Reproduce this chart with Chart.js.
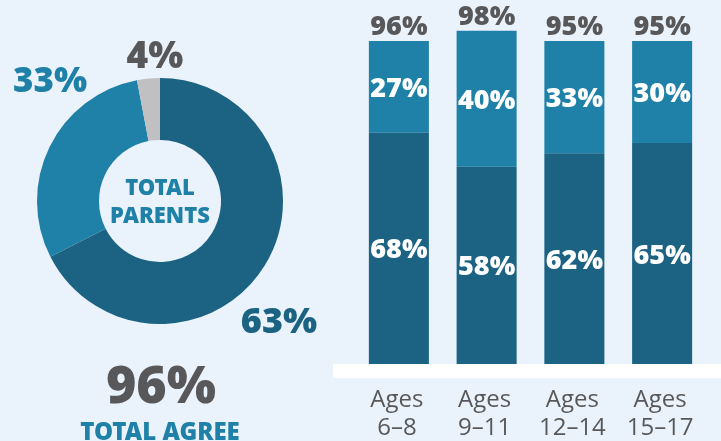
<!DOCTYPE html>
<html>
<head>
<meta charset="utf-8">
<script src="https://cdn.jsdelivr.net/npm/chart.js@4.4.1/dist/chart.umd.min.js"></script>
<style>
  html, body { margin: 0; padding: 0; background: #eaf3fb; }
  body { width: 721px; height: 441px; position: relative; overflow: hidden; }
  #donutWrap { position: absolute; left: 0; top: 0; width: 330px; height: 441px; }
  #barWrap { position: absolute; left: 330px; top: 0; width: 391px; height: 441px; }
</style>
</head>
<body>
<div id="donutWrap"><canvas id="donut"></canvas></div>
<div id="barWrap"><canvas id="bars"></canvas></div>
<script>
// ---- Data ----
const donutCategories = ['Strongly agree', 'Somewhat agree', 'Do not agree'];
const donutShares = [67.5, 29.5, 3];          // arc sizes as drawn in the picture
const donutLabels = ['63%', '33%', '4%'];     // printed labels
const totalAgreeLabel = '96%';

const ageGroups = [['Ages', '6–8'], ['Ages', '9–11'], ['Ages', '12–14'], ['Ages', '15–17']];
const stronglyAgree = [68, 58, 62, 65];
const somewhatAgree = [27, 40, 33, 30];
const totalLabels = ['96%', '98%', '95%', '95%'];

// ---- Style ----
const DARK = '#1c6282';
const MED = '#1f81a8';
const GREY = '#c0c0c2';
const TEXT = '#58585a';
const HEAVY = '"Noto Sans", Roboto, sans-serif';
const REG = '"Open Sans", Lato, sans-serif';

// ---- Doughnut ----
const donutText = {
  id: 'donutText',
  afterDraw(chart) {
    const arc = chart.getDatasetMeta(0).data[0];
    const cx = arc.x, cy = arc.y;
    const ctx = chart.ctx;
    ctx.save();
    ctx.textAlign = 'center';
    ctx.textBaseline = 'alphabetic';
    // slice labels
    ctx.font = '900 36px ' + HEAVY;
    ctx.fillStyle = DARK;
    ctx.fillText(donutLabels[0], cx + 119, cy + 132);
    ctx.font = '900 35px ' + HEAVY;
    ctx.fillStyle = MED;
    ctx.fillText(donutLabels[1], cx - 110, cy - 109);
    ctx.font = '900 37px ' + HEAVY;
    ctx.fillStyle = TEXT;
    ctx.fillText(donutLabels[2], cx - 5, cy - 133);
    // center
    ctx.font = '900 22px ' + HEAVY;
    ctx.fillStyle = MED;
    ctx.fillText('TOTAL', cx, cy - 6);
    ctx.fillText('PARENTS', cx, cy + 22);
    // total agree
    ctx.font = '900 52px ' + HEAVY;
    ctx.fillStyle = TEXT;
    ctx.fillText(totalAgreeLabel, cx + 1, cy + 202);
    ctx.font = '900 24px ' + HEAVY;
    ctx.fillStyle = MED;
    ctx.fillText('TOTAL AGREE', cx, cy + 239);
    ctx.restore();
  }
};

new Chart(document.getElementById('donut'), {
  type: 'doughnut',
  data: {
    labels: donutCategories,
    datasets: [{
      data: donutShares,
      backgroundColor: [DARK, MED, GREY],
      borderWidth: 0,
      hoverOffset: 0
    }]
  },
  options: {
    responsive: true,
    maintainAspectRatio: false,
    animation: false,
    cutout: '49.6%',
    layout: { padding: { left: 37, top: 78, right: 47, bottom: 117 } },
    plugins: { legend: { display: false }, tooltip: { enabled: false } }
  },
  plugins: [donutText]
});

// ---- Stacked bars ----
const barText = {
  id: 'barText',
  beforeDatasetsDraw(chart) {
    const ctx = chart.ctx;
    const area = chart.chartArea;
    ctx.save();
    ctx.fillStyle = '#ffffff';
    ctx.fillRect(3, area.bottom, chart.width - 3, 14);
    ctx.restore();
  },
  afterDatasetsDraw(chart) {
    const ctx = chart.ctx;
    const area = chart.chartArea;
    const xScale = chart.scales.x;
    ctx.save();
    ctx.textAlign = 'center';
    ctx.textBaseline = 'alphabetic';
    // segment labels
    ctx.font = '900 27px ' + HEAVY;
    ctx.fillStyle = '#ffffff';
    chart.data.datasets.forEach((ds, di) => {
      const meta = chart.getDatasetMeta(di);
      meta.data.forEach((bar, i) => {
        const mid = (bar.y + bar.base) / 2;
        ctx.fillText(ds.data[i] + '%', bar.x, mid + 10);
      });
    });
    // totals
    ctx.fillStyle = TEXT;
    const topMeta = chart.getDatasetMeta(1);
    topMeta.data.forEach((bar, i) => {
      ctx.fillText(totalLabels[i], bar.x, bar.y - 6);
    });
    // category labels
    ctx.font = '24px ' + REG;
    ageGroups.forEach((lines, i) => {
      const x = xScale.getPixelForValue(i) - 2;
      ctx.fillText(lines[0], x, area.bottom + 43);
      ctx.fillText(lines[1], x, area.bottom + 71);
    });
    ctx.restore();
  }
};

new Chart(document.getElementById('bars'), {
  type: 'bar',
  data: {
    labels: ageGroups,
    datasets: [
      { label: 'Strongly agree', data: stronglyAgree, backgroundColor: DARK, borderWidth: 0 },
      { label: 'Somewhat agree', data: somewhatAgree, backgroundColor: MED, borderWidth: 0 }
    ]
  },
  options: {
    responsive: true,
    maintainAspectRatio: false,
    animation: false,
    datasets: { bar: { categoryPercentage: 1, barPercentage: 0.684 } },
    layout: { padding: { left: 25, right: 15, top: 24, bottom: 77 } },
    scales: {
      x: { stacked: true, display: false },
      y: { stacked: true, display: false, min: 0, max: 100 }
    },
    plugins: { legend: { display: false }, tooltip: { enabled: false } }
  },
  plugins: [barText]
});
</script>
</body>
</html>
